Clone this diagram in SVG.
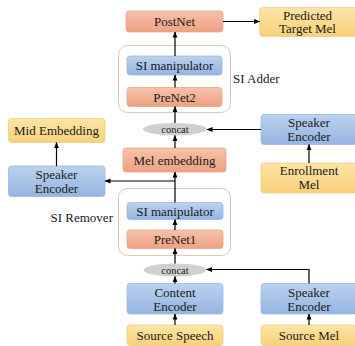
<svg xmlns="http://www.w3.org/2000/svg" width="355" height="346" viewBox="0 0 355 346">
  <defs>
    <linearGradient id="gOrange" x1="0" y1="0" x2="0" y2="1">
      <stop offset="0" stop-color="#f6c3ab"/>
      <stop offset="1" stop-color="#eea083"/>
    </linearGradient>
    <linearGradient id="gBlue" x1="0" y1="0" x2="0" y2="1">
      <stop offset="0" stop-color="#bcd2ef"/>
      <stop offset="1" stop-color="#95b4e0"/>
    </linearGradient>
    <linearGradient id="gYellow" x1="0" y1="0" x2="0" y2="1">
      <stop offset="0" stop-color="#fde5a6"/>
      <stop offset="1" stop-color="#f8d07a"/>
    </linearGradient>
    <marker id="arrow" viewBox="0 0 6 6" refX="5.5" refY="3" markerWidth="6" markerHeight="6" markerUnits="userSpaceOnUse" orient="auto">
      <path d="M0,0.6 L6,3 L0,5.4 Z" fill="#000"/>
    </marker>
    <style>
      .orange { fill: url(#gOrange); stroke: #e8a58a; stroke-width: 0.8; }
      .blue { fill: url(#gBlue); stroke: #9db8df; stroke-width: 0.8; }
      .yellow { fill: url(#gYellow); stroke: #f0cc85; stroke-width: 0.8; }
      .group { fill: #ffffff; stroke: #e2c8b8; stroke-width: 1; }
      .concat { fill: #d0d0d0; stroke: none; }
      text { font-family: "Liberation Serif", "Times New Roman", serif; font-size: 13px; fill: #1a1a1a; text-anchor: middle; }
      .small { font-size: 10.5px; }
      .label { text-anchor: start; }
      .wire { fill: none; stroke: #000; stroke-width: 1.2; marker-end: url(#arrow); }
    </style>
  </defs>

  <!-- grouping frames -->
  <g id="si-adder">
    <rect class="group" x="118.5" y="45.5" width="112" height="67" rx="9"/>
    <text class="label" x="233" y="83">SI Adder</text>
  </g>
  <g id="si-remover">
    <rect class="group" x="118.5" y="188.5" width="112" height="67" rx="9"/>
    <text class="label" x="50.5" y="222">SI Remover</text>
  </g>

  <!-- main column -->
  <g id="postnet">
    <rect class="orange" x="126" y="11" width="97" height="21" rx="3"/>
    <text x="174.5" y="26">PostNet</text>
  </g>
  <g id="si-manipulator-2">
    <rect class="blue" x="127" y="56" width="95" height="19" rx="3"/>
    <text x="174.5" y="70">SI manipulator</text>
  </g>
  <g id="prenet2">
    <rect class="orange" x="127" y="87.5" width="95" height="19" rx="3"/>
    <text x="174.5" y="101.5">PreNet2</text>
  </g>
  <g id="concat-top">
    <ellipse class="concat" cx="175" cy="129.2" rx="32" ry="6.2"/>
    <text class="small" x="175" y="133">concat</text>
  </g>
  <g id="mel-embedding">
    <rect class="orange" x="123" y="148" width="103" height="24" rx="3"/>
    <text x="174.5" y="164.5">Mel embedding</text>
  </g>
  <g id="si-manipulator-1">
    <rect class="blue" x="127" y="202.5" width="96" height="17" rx="3"/>
    <text x="175" y="215.5">SI manipulator</text>
  </g>
  <g id="prenet1">
    <rect class="orange" x="127" y="230" width="96" height="18.5" rx="3"/>
    <text x="175" y="244">PreNet1</text>
  </g>
  <g id="concat-bottom">
    <ellipse class="concat" cx="175" cy="270" rx="31.5" ry="6.5"/>
    <text class="small" x="175" y="273.8">concat</text>
  </g>
  <g id="content-encoder">
    <rect class="blue" x="127" y="283.5" width="96" height="30.5" rx="3"/>
    <text x="175" y="296.5">Content</text>
    <text x="175" y="310.5">Encoder</text>
  </g>
  <g id="source-speech">
    <rect class="yellow" x="127" y="325" width="96" height="20.5" rx="3"/>
    <text x="175" y="340">Source Speech</text>
  </g>

  <!-- right column -->
  <g id="predicted-target-mel">
    <rect class="yellow" x="259.5" y="7.5" width="98" height="29" rx="3"/>
    <text x="307.5" y="19.5">Predicted</text>
    <text x="307.5" y="33">Target Mel</text>
  </g>
  <g id="speaker-encoder-enroll">
    <rect class="blue" x="261" y="114.5" width="96" height="30" rx="3"/>
    <text x="309" y="126.5">Speaker</text>
    <text x="309" y="140.5">Encoder</text>
  </g>
  <g id="enrollment-mel">
    <rect class="yellow" x="261" y="163" width="96" height="30" rx="3"/>
    <text x="309" y="175">Enrollment</text>
    <text x="309" y="189">Mel</text>
  </g>
  <g id="speaker-encoder-source">
    <rect class="blue" x="261" y="283.5" width="96" height="30.5" rx="3"/>
    <text x="309" y="296.5">Speaker</text>
    <text x="309" y="310.5">Encoder</text>
  </g>
  <g id="source-mel">
    <rect class="yellow" x="261" y="325" width="96" height="20.5" rx="3"/>
    <text x="309" y="340">Source Mel</text>
  </g>

  <!-- left column -->
  <g id="mid-embedding">
    <rect class="yellow" x="8.5" y="118.5" width="96.5" height="24" rx="3"/>
    <text x="56.5" y="135">Mid Embedding</text>
  </g>
  <g id="speaker-encoder-mid">
    <rect class="blue" x="8.5" y="166" width="96.5" height="30.5" rx="3"/>
    <text x="56.5" y="178.5">Speaker</text>
    <text x="56.5" y="192.5">Encoder</text>
  </g>

  <!-- connectors -->
  <g id="connectors">
    <line class="wire" x1="175" y1="325" x2="175" y2="314"/>
    <line class="wire" x1="175" y1="283.5" x2="175" y2="276.5"/>
    <line class="wire" x1="175" y1="263.5" x2="175" y2="248.5"/>
    <line class="wire" x1="175" y1="230" x2="175" y2="219.5"/>
    <line class="wire" x1="175" y1="202.5" x2="175" y2="172"/>
    <line class="wire" x1="175" y1="181" x2="105" y2="181"/>
    <line class="wire" x1="175" y1="148" x2="175" y2="135.4"/>
    <line class="wire" x1="175" y1="123" x2="175" y2="106.5"/>
    <line class="wire" x1="175" y1="87.5" x2="175" y2="75"/>
    <line class="wire" x1="175" y1="56" x2="175" y2="32"/>
    <line class="wire" x1="223" y1="21.5" x2="259.5" y2="21.5"/>
    <line class="wire" x1="56.5" y1="166" x2="56.5" y2="142.5"/>
    <line class="wire" x1="309" y1="163" x2="309" y2="144.5"/>
    <line class="wire" x1="261" y1="129.5" x2="207" y2="129.5"/>
    <line class="wire" x1="309" y1="325" x2="309" y2="314"/>
    <polyline class="wire" points="309,283.5 309,269.5 206.5,269.5"/>
  </g>
</svg>
